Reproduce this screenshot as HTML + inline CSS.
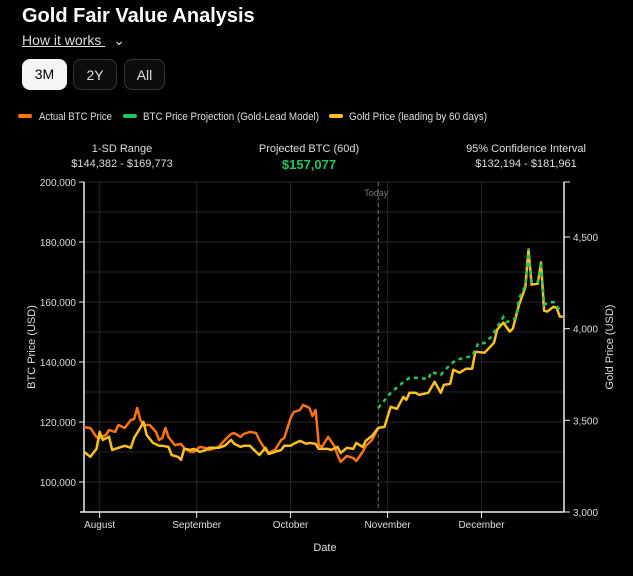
<!DOCTYPE html>
<html><head><meta charset="utf-8">
<style>
body{margin:0;background:#000;width:633px;height:576px;overflow:hidden;font-family:"Liberation Sans",sans-serif;color:#fff;position:relative}
.abs{position:absolute}
.btn{position:absolute;top:59px;height:31px;border-radius:8px;font-size:14px;line-height:31px;text-align:center;box-sizing:border-box}
.stat{position:absolute;top:142px;width:200px;text-align:center;font-size:11px;color:#ddd;line-height:15px}
.sw{position:absolute;top:114px;width:14px;height:4px;border-radius:2px}
</style></head><body>
<div class="abs" style="left:22px;top:5px;font-size:20px;font-weight:bold">Gold Fair Value Analysis</div>
<div class="abs" style="left:22px;top:32px;font-size:14px;color:#ddd;text-decoration:underline">How it works <span style="text-decoration:none;display:inline-block;margin-left:8px">&#8964;</span></div>
<div class="btn" style="left:22px;width:45px;background:#f5f5f5;color:#000">3M</div>
<div class="btn" style="left:73px;width:44px;background:#0d0d0d;border:1px solid #333;color:#ddd">2Y</div>
<div class="btn" style="left:124px;width:41px;background:#0d0d0d;border:1px solid #333;color:#ddd">All</div>
<div class="sw" style="left:18px;background:#f97316"></div>
<div class="sw" style="left:123px;background:#22c55e"></div>
<div class="sw" style="left:329px;background:#fbbf24"></div>
<svg class="abs" style="left:0;top:100px" width="633" height="30">
<text x="39" y="20" font-size="11" fill="#ddd" textLength="73" lengthAdjust="spacingAndGlyphs">Actual BTC Price</text>
<text x="143" y="20" font-size="11" fill="#ddd" textLength="176" lengthAdjust="spacingAndGlyphs">BTC Price Projection (Gold-Lead Model)</text>
<text x="349" y="20" font-size="11" fill="#ddd" textLength="138" lengthAdjust="spacingAndGlyphs">Gold Price (leading by 60 days)</text>
</svg>
<div class="stat" style="left:22px">1-SD Range<br>$144,382 - $169,773</div>
<div class="stat" style="left:209px">Projected BTC (60d)<br><span style="color:#22c55e;font-weight:bold;font-size:13px">$157,077</span></div>
<div class="stat" style="left:426px">95% Confidence Interval<br>$132,194 - $181,961</div>
<svg id="chart" class="abs" style="left:0;top:0" width="633" height="576"></svg>
<script>
const btcDays=[0,2,4,5,7,8,10,11,13,15,16,17,18,19,21,23,24,25,26,27,29,31,32,34,35,37,39,40,42,43,45,47,48,50,51,53,55,56,58,59,61,63,64,66,67,69,70,72,73,74,75,76,78,80,81,82,84,86,87,89,90,92,94];
const btcVals=[118.3,118,115,114.7,115.7,117.3,116.7,119,118,120.7,121,124.7,120.7,119,119,116.7,114,114.7,118,115,112.3,112.7,111.3,110,110,111.7,111.3,110.7,111.3,111.7,114,116,116.3,115,116,116.7,116.3,114,110.7,109.7,110.7,114,114.7,121.3,123.3,124,125.7,124.7,122,124,112.3,111.7,115,112,109,106.7,108.7,108,107,110,112,114,118];
const goldDays=[0,2,4,5,6,8,9,11,13,15,16,18,19,20,22,24,25,27,28,30,31,32,34,35,37,39,40,42,43,45,47,48,50,51,53,55,56,58,59,63,64,66,67,69,71,72,74,75,78,79,81,82,84,86,87,89,90,92,94,96,98,100,102,103,104,106,107,110,112,114,115,117,118,120,122,124,125,128,131,132,134,136,137,139,141,142,143,145,146,147,148,150,151,152,153];
const goldVals=[3328,3301,3344,3437,3393,3410,3339,3350,3361,3350,3404,3459,3492,3421,3377,3361,3361,3355,3311,3301,3284,3344,3339,3344,3328,3339,3350,3350,3350,3361,3393,3372,3355,3361,3361,3328,3311,3350,3317,3339,3361,3361,3372,3388,3372,3377,3372,3344,3344,3339,3355,3322,3350,3344,3377,3355,3388,3415,3459,3464,3574,3563,3628,3612,3650,3650,3639,3650,3710,3650,3694,3699,3776,3760,3781,3781,3874,3869,3923,3995,4033,3984,4000,4131,4224,4432,4240,4246,4361,4098,4093,4120,4115,4066,4066];
const projDays=[94,98,102,104,107,110,111,114,115,118,120,124,126,128,130,134,135,138,139,141,142,143,145,146,147,148,150,152,153];
const projVals=[124.7,129.7,133.3,134.7,134.7,134.3,136.7,135.7,137,140,141,142,146.3,146.3,148.3,155,153.3,154.7,161.3,165.3,177.7,166.7,166.7,173.3,159,159.7,160,157.3,157];
const leftTicks=[100000,120000,140000,160000,180000,200000];
const rightTicks=[3000,3500,4000,4500];
const monthLabels=["August","September","October","November","December"];
const monthDays=[5,36,66,97,127];
const todayDay=94;

const NS="http://www.w3.org/2000/svg";
const svg=document.getElementById('chart');
const X0=84,X1=564,Y0=512,Y1=182;
const xs=d=>X0+d*3.13;
const yL=v=>Y0-(v-90000)/110000*(Y0-Y1);
const yR=v=>Y0-(v-3000)/1800*(Y0-Y1);
function el(t,a){const e=document.createElementNS(NS,t);for(const k in a)e.setAttribute(k,a[k]);svg.appendChild(e);return e;}
for(let v=90000;v<=200000;v+=10000){const g=el('line',{x1:X0,x2:X1,y1:yL(v),y2:yL(v),stroke:'#262626','stroke-width':1});

}
monthDays.forEach(d=>{const g=el('line',{x1:xs(d),x2:xs(d),y1:Y1,y2:Y0,stroke:'#262626','stroke-width':1});

});
const la=el('line',{x1:X0,x2:X0,y1:Y1,y2:Y0,stroke:'#eee','stroke-width':1.5});


const ra=el('line',{x1:X1,x2:X1,y1:Y1,y2:Y0,stroke:'#eee','stroke-width':1.5});


const ba=el('line',{x1:80,x2:X1,y1:Y0,y2:Y0,stroke:'#eee','stroke-width':1.5});


el('line',{x1:X1,x2:X1+6,y1:Y1,y2:Y1,stroke:'#eee'});
el('line',{x1:X0-5,x2:X0,y1:Y1,y2:Y1,stroke:'#eee'});
leftTicks.forEach(v=>{el('line',{x1:X0-5,x2:X0,y1:yL(v),y2:yL(v),stroke:'#eee'});
const t=el('text',{x:X0-8,y:yL(v)+4,'text-anchor':'end','font-size':10,fill:'#ddd'});t.textContent=v.toLocaleString('en-US');

});
rightTicks.forEach(v=>{el('line',{x1:X1,x2:X1+6,y1:yR(v),y2:yR(v),stroke:'#eee'});
const t=el('text',{x:X1+9,y:yR(v)+4,'font-size':10,fill:'#ddd'});t.textContent=v.toLocaleString('en-US');

});
monthLabels.forEach((m,i)=>{el('line',{x1:xs(monthDays[i]),x2:xs(monthDays[i]),y1:Y0,y2:Y0+6,stroke:'#eee'});
const t=el('text',{x:xs(monthDays[i]),y:Y0+16,'text-anchor':'middle','font-size':10,fill:'#ddd'});t.textContent=m;

});
let t=el('text',{x:325,y:551,'text-anchor':'middle','font-size':11,fill:'#ddd'});t.textContent='Date';


t=el('text',{x:0,y:0,'text-anchor':'middle','font-size':11,fill:'#ddd',transform:'translate(35,347) rotate(-90)'});t.textContent='BTC Price (USD)';


t=el('text',{x:0,y:0,'text-anchor':'middle','font-size':11,fill:'#ddd',transform:'translate(613,347) rotate(-90)'});t.textContent='Gold Price (USD)';


const tl=el('line',{x1:xs(todayDay),x2:xs(todayDay),y1:Y1,y2:Y0,stroke:'#777','stroke-dasharray':'4 3','stroke-width':1});


t=el('text',{x:xs(todayDay)-14,y:196,'font-size':9,fill:'#777'});t.textContent='Today';


function path(days,vals,yf){return days.map((d,i)=>(i?'L':'M')+xs(d).toFixed(1)+','+yf(vals[i]*(yf===yL?1000:1)).toFixed(1)).join('');}
const p1=el('path',{d:path(btcDays,btcVals,yL),fill:'none',stroke:'#f97316','stroke-width':2.5,'stroke-linejoin':'round'});


const p2=el('path',{d:path(goldDays,goldVals,yR),fill:'none',stroke:'#fbbf24','stroke-width':2.5,'stroke-linejoin':'round'});


const p3=el('path',{d:path(projDays,projVals,yL),fill:'none',stroke:'#22c55e','stroke-width':2.5,'stroke-dasharray':'4 4'});


</script>
</body></html>
